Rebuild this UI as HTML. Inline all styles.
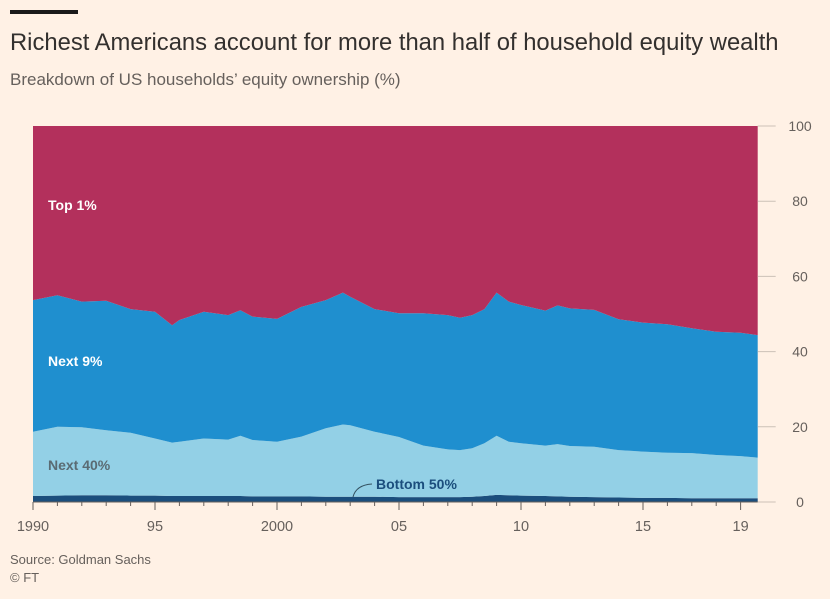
<!DOCTYPE html>
<html><head><meta charset="utf-8"><style>
body{margin:0;background:#fff1e5;font-family:"Liberation Sans",sans-serif;}
#wrap{position:relative;width:830px;height:599px;overflow:hidden;background:#fff1e5;}
</style></head><body>
<div id="wrap">
<svg id="svg" width="830" height="599" xmlns="http://www.w3.org/2000/svg">
<rect x="10" y="10" width="68" height="4" fill="#1a1a1a"/>
<text x="10" y="50" font-size="23.8" fill="#33302e">Richest Americans account for more than half of household equity wealth</text>
<text x="10" y="85" font-size="17" fill="#66605c">Breakdown of US households’ equity ownership (%)</text>
<g id="plot"></g>
<text x="10" y="564" font-size="13" fill="#66605c">Source: Goldman Sachs</text>
<text x="10" y="582" font-size="13" fill="#66605c">© FT</text>
</svg>
</div>
<script>
const years=[1990,1991,1992,1993,1994,1995,1995.7,1996,1997,1998,1998.5,1999,2000,2001,2002,2002.7,2003,2004,2005,2006,2007,2007.5,2008,2008.5,2009,2009.5,2010,2011,2011.5,2012,2013,2014,2015,2016,2017,2018,2019,2019.7];
const bottom50=[1.6,1.7,1.8,1.8,1.7,1.7,1.6,1.6,1.6,1.6,1.6,1.5,1.5,1.5,1.4,1.4,1.4,1.4,1.3,1.3,1.3,1.3,1.4,1.6,1.9,1.8,1.7,1.6,1.5,1.4,1.3,1.2,1.1,1.1,1.0,1.0,1.0,1.0];
const next40=[17.1,18.3,18.1,17.3,16.7,15.2,14.2,14.4,15.3,15,16,15,14.5,15.9,18.2,19.2,19,17.3,16,13.7,12.7,12.5,12.9,14,15.7,14.2,13.9,13.4,13.9,13.5,13.4,12.6,12.3,12,12,11.5,11.2,10.8];
const next9=[35,35,33.4,34.4,32.9,33.7,31.2,32.4,33.7,33.1,33.4,32.8,32.7,34.5,34.1,35.1,34.2,32.6,32.9,35.2,35.7,35.2,35.4,35.7,38.1,37.3,36.8,35.9,36.9,36.6,36.4,34.8,34.3,34.2,33.2,32.8,32.8,32.6];
const top1=[46.3,45,46.7,46.5,48.7,49.4,53,51.6,49.4,50.3,49,50.7,51.3,48.1,46.3,44.3,45.4,48.7,49.8,49.8,50.3,51,50.3,48.7,44.3,46.7,47.6,49.1,47.7,48.5,48.9,51.4,52.3,52.7,53.8,54.7,55,55.6];
const yTicks=[0,20,40,60,80,100];
const xTickYears=[1990,1995,2000,2005,2010,2015,2019];
const xTickLabels=["1990","95","2000","05","10","15","19"];

const NS="http://www.w3.org/2000/svg";
const plot=document.getElementById('plot');
const X=y=>33+(y-1990)*24.4;
const Y=v=>502-v*3.76;
function mk(tag,attrs){const e=document.createElementNS(NS,tag);for(const k in attrs)e.setAttribute(k,attrs[k]);plot.appendChild(e);return e;}

const series=[
 {name:'bottom-50-area',vals:bottom50,color:'#1b4e7d'},
 {name:'next-40-area',vals:next40,color:'#93d0e6'},
 {name:'next-9-area',vals:next9,color:'#1f8fcf'},
 {name:'top-1-area',vals:top1,color:'#b3305c'}
];
let base=years.map(()=>0);
series.forEach(s=>{
  const top=base.map((b,i)=>b+s.vals[i]);
  let d='M'+years.map((yr,i)=>X(yr).toFixed(1)+','+Y(top[i]).toFixed(1)).join('L');
  for(let i=years.length-1;i>=0;i--)d+='L'+X(years[i]).toFixed(1)+','+Y(base[i]).toFixed(1);
  d+='Z';
  const p=mk('path',{d:d,fill:s.color});
  
  
  base=top;
});

const xEnd=X(years[years.length-1]);
yTicks.forEach(t=>{
  const l=mk('line',{x1:xEnd,x2:xEnd+18,y1:Y(t),y2:Y(t),stroke:'#ccc1b7','stroke-width':1});
  
  
  const tx=mk('text',{x:800,y:Y(t)+5,'font-size':14,fill:'#66605c','text-anchor':'middle'});
  tx.textContent=t;
  
  
});
const ax=mk('line',{x1:33,x2:xEnd,y1:502,y2:502,stroke:'#66605c','stroke-width':1});


for(let yr=1990;yr<=2019;yr++){
  const major=xTickYears.includes(yr);
  const tk=mk('line',{x1:X(yr),x2:X(yr),y1:502,y2:major?510:506,stroke:'#66605c','stroke-width':1});
  
  
}
xTickYears.forEach((yr,i)=>{
  const tx=mk('text',{x:X(yr),y:531,'font-size':14.5,fill:'#66605c','text-anchor':'middle'});
  tx.textContent=xTickLabels[i];
  
  
});

function label(txt,x,y,color,name){
  const t=mk('text',{x:x,y:y,'font-size':14,'font-weight':'bold',fill:color});
  t.textContent=txt;
  
  
}
label('Top 1%',48,210,'#ffffff','label-top-1');
label('Next 9%',48,366,'#ffffff','label-next-9');
label('Next 40%',48,470,'#5a6b73','label-next-40');
label('Bottom 50%',376,489,'#1b4e7d','label-bottom-50');
const ld=mk('path',{d:'M353,497 Q356,485 372,484',fill:'none',stroke:'#33505f','stroke-width':1});


</script>
</body></html>
